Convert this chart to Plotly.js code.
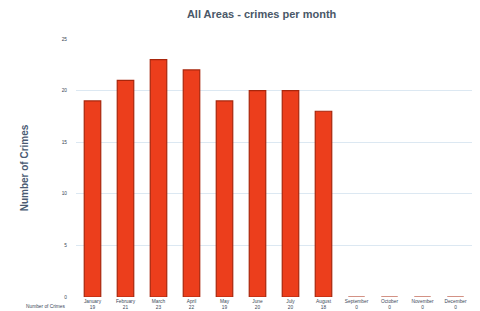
<!DOCTYPE html>
<html><head><meta charset="utf-8">
<script src="https://cdn.plot.ly/plotly-3.0.1.min.js"></script>
<style>html,body{margin:0;padding:0;background:#fff}#c{width:480px;height:311px}</style>
</head><body><div id="c"></div>
<script>
var months = ["January","February","March","April","May","June","July","August","September","October","November","December"];
var crimes = [19,21,23,22,19,20,20,18,0,0,0,0];
var yTicks = [0,5,10,15,20,25];

var tickText = months.map(function(m,i){return m + "<br>" + crimes[i];});

var trace = {
  type: "bar",
  x: months,
  y: crimes,
  marker: {color: "#ec3e1c", line: {color: "#a8260c", width: 1.2}},
  width: 0.5,
  hoverinfo: "x+y"
};

var layout = {
  width: 480, height: 311,
  margin: {l: 76, r: 8, t: 39, b: 14, pad: 0},
  paper_bgcolor: "#fff", plot_bgcolor: "#fff",
  font: {family: "Liberation Sans, Arial, sans-serif", color: "#4a5868"},
  title: {text: "<b>All Areas - crimes per month</b>", font: {size: 11, color: "#4a5868"}, x: 0.545, xanchor: "center", y: 0.955, yanchor: "middle"},
  showlegend: false,
  xaxis: {
    tickmode: "array", tickvals: months, ticktext: tickText,
    tickfont: {size: 4.8, color: "#3a4858"}, showgrid: false, zeroline: false,
    showline: false, ticks: "", automargin: false, fixedrange: true
  },
  yaxis: {
    range: [0, 25], tickvals: yTicks, ticktext: yTicks.map(String),
    tickfont: {size: 4.8, color: "#3a4858"}, showgrid: true, gridcolor: "#dce8f2", gridwidth: 1,
    zeroline: false, showline: false, ticks: "", ticklabelstandoff: 8, automargin: false,
    title: {text: "<b>Number of Crimes</b>", font: {size: 10, color: "#4a5a72"}, standoff: 31}
  },
  annotations: [{
    text: "Number of Crimes", xref: "paper", yref: "paper", x: -0.02, y: -0.038,
    xanchor: "right", yanchor: "middle", showarrow: false, font: {size: 4.8, color: "#3a4858"}
  }]
};

Plotly.newPlot("c", [trace], layout, {displayModeBar: false, staticPlot: true});
</script>
</body></html>
